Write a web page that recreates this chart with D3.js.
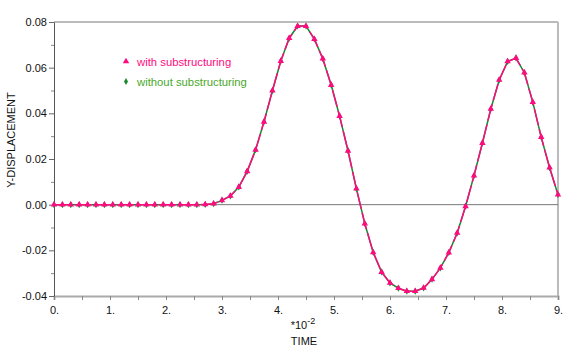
<!DOCTYPE html>
<html lang="en">
<head>
    <meta charset="UTF-8">
    <title>Y-DISPLACEMENT vs TIME</title>
    <script src="https://d3js.org/d3.v7.min.js"></script>
    <style>
        body { margin: 0; background: #fff; }
        text { font-family: "Liberation Sans", Arial, sans-serif; fill: #111; }
    </style>
</head>
<body>
    <div id="chart"></div>
    <script>
        // time in units of 1e-2, step 0.15
        const time = d3.range(61).map(i => +(i * 0.15).toFixed(2));

        const withSub = [
            0, 0, 0, 0, 0, 0, 0, 0, 0, 0,
            0, 0, 0, 0, 0, 0, 0, 0, 0.0001, 0.0004,
            0.0019, 0.0038, 0.0077, 0.0146, 0.0240, 0.0363, 0.0499, 0.0629, 0.0729, 0.0782,
            0.0782, 0.0725, 0.0639, 0.0524, 0.0388, 0.0236, 0.0070, -0.0083, -0.0209, -0.0295,
            -0.0343, -0.0366, -0.0379, -0.0379, -0.0365, -0.0327, -0.0277, -0.0210, -0.0124, -0.0007,
            0.0127, 0.0270, 0.0419, 0.0546, 0.0627, 0.0642, 0.0578, 0.0449, 0.0296, 0.0162,
            0.0044
        ];
        const withoutSub = [
            0, 0, 0, 0, 0, 0, 0, 0, 0, 0,
            0, 0, 0, 0, 0, 0, 0, 0, 0.0001, 0.0004,
            0.0019, 0.0038, 0.0077, 0.0146, 0.0240, 0.0363, 0.0499, 0.0629, 0.0729, 0.0782,
            0.0782, 0.0725, 0.0639, 0.0524, 0.0388, 0.0236, 0.0070, -0.0083, -0.0209, -0.0295,
            -0.0343, -0.0366, -0.0379, -0.0379, -0.0365, -0.0327, -0.0277, -0.0210, -0.0124, -0.0007,
            0.0127, 0.0270, 0.0419, 0.0546, 0.0627, 0.0642, 0.0578, 0.0449, 0.0296, 0.0162,
            0.0044
        ];

        const xTicks = [0, 1, 2, 3, 4, 5, 6, 7, 8, 9];
        const yTicks = [-0.04, -0.02, 0, 0.02, 0.04, 0.06, 0.08];
        const legendLabels = ["with substructuring", "without substructuring"];

        const width = 580, height = 352;
        const margin = { top: 22, right: 22, bottom: 56, left: 54 };
        const pink = "#ff0a80", green = "#178a2c", greenText = "#4aa82c";

        const svg = d3.select("#chart").append("svg")
            .attr("width", width).attr("height", height);

        const x = d3.scaleLinear().domain([0, 9]).range([margin.left, width - margin.right]);
        const y = d3.scaleLinear().domain([-0.04, 0.08]).range([height - margin.bottom, margin.top]);

        // frame: top and right
        svg.append("line")
            .attr("x1", x(0)).attr("x2", x(9)).attr("y1", y(0.08)).attr("y2", y(0.08))
            .attr("stroke", "#777").attr("stroke-width", 1);
        svg.append("line")
            .attr("x1", x(9)).attr("x2", x(9)).attr("y1", y(0.08)).attr("y2", y(-0.04))
            .attr("stroke", "#bbb").attr("stroke-width", 2);
        // zero line
        svg.append("line")
            .attr("x1", x(0)).attr("x2", x(9)).attr("y1", y(0)).attr("y2", y(0))
            .attr("stroke", "#777").attr("stroke-width", 1);

        // x axis
        const xAxis = svg.append("g")
            .attr("transform", `translate(0,${y(-0.04)})`)
            .call(d3.axisBottom(x).tickValues(d3.range(0, 9.01, 0.5)).tickSize(4)
                .tickFormat(d => xTicks.includes(d) ? d + "." : ""));
        xAxis.select(".domain").attr("stroke", "#aaa").attr("stroke-width", 2);
        xAxis.selectAll(".tick line").attr("stroke", "#888");
        xAxis.selectAll("text").attr("font-size", 11).attr("dy", "1em")
            .style("font-family", "'Liberation Sans', Arial, sans-serif").attr("fill", "#111");

        // y axis: minor ticks
        svg.append("g")
            .attr("transform", `translate(${x(0)},0)`)
            .call(d3.axisLeft(y).tickValues(d3.range(-0.03, 0.08, 0.02)).tickSize(3).tickFormat(""))
            .call(g => g.select(".domain").remove())
            .selectAll(".tick line").attr("stroke", "#888");
        const yAxis = svg.append("g")
            .attr("transform", `translate(${x(0)},0)`)
            .call(d3.axisLeft(y).tickValues(yTicks).tickSize(5).tickSizeOuter(0)
                .tickFormat(d => d.toFixed(2)));
        yAxis.select(".domain").attr("stroke", "#555");
        yAxis.selectAll(".tick line").attr("stroke", "#666");
        yAxis.selectAll("text").attr("font-size", 11).attr("x", -7)
            .style("font-family", "'Liberation Sans', Arial, sans-serif").attr("fill", "#111");

        // axis titles
        const xt = svg.append("text").attr("x", 303).attr("y", 329)
            .attr("text-anchor", "middle").attr("font-size", 11);
        xt.append("tspan").text("*10");
        xt.append("tspan").attr("dy", -5).attr("font-size", 9).text("-2");
        svg.append("text").attr("x", 304).attr("y", 345)
            .attr("text-anchor", "middle").attr("font-size", 11).text("TIME");
        svg.append("text")
            .attr("transform", "translate(15,140) rotate(-90)")
            .attr("text-anchor", "middle").attr("font-size", 11).text("Y-DISPLACEMENT");

        const line = d3.line().x((d, i) => x(time[i])).y(d => y(d));

        // without substructuring (underneath)
        svg.append("path").datum(withoutSub)
            .attr("d", line).attr("fill", "none")
            .attr("stroke", green).attr("stroke-width", 1.5);
        svg.selectAll(".m-green").data(withoutSub).enter().append("path")
            .attr("class", "m-green")
            .attr("transform", (d, i) => `translate(${x(time[i])},${y(d)})`)
            .attr("d", d3.symbol(d3.symbolDiamond, 14)).attr("fill", green);

        // with substructuring (on top)
        svg.append("path").datum(withSub)
            .attr("d", line).attr("fill", "none")
            .attr("stroke", pink).attr("stroke-width", 1.5)
            .attr("stroke-dasharray", "17,4");
        svg.selectAll(".m-pink").data(withSub).enter().append("path")
            .attr("class", "m-pink")
            .attr("transform", (d, i) => `translate(${x(time[i])},${y(d)})`)
            .attr("d", d3.symbol(d3.symbolTriangle, 18)).attr("fill", pink);

        // legend
        const legend = svg.append("g");
        legendLabels.forEach((label, i) => {
            const ly = 61.5 + i * 20;
            legend.append("path")
                .attr("transform", `translate(126,${ly})`)
                .attr("d", d3.symbol(i === 0 ? d3.symbolTriangle : d3.symbolDiamond, i === 0 ? 18 : 14))
                .attr("fill", i === 0 ? pink : green);
            legend.append("text")
                .attr("x", 137).attr("y", ly + 4)
                .attr("font-size", 11.3)
                .style("fill", i === 0 ? pink : greenText)
                .text(label);
        });
    </script>
</body>
</html>
